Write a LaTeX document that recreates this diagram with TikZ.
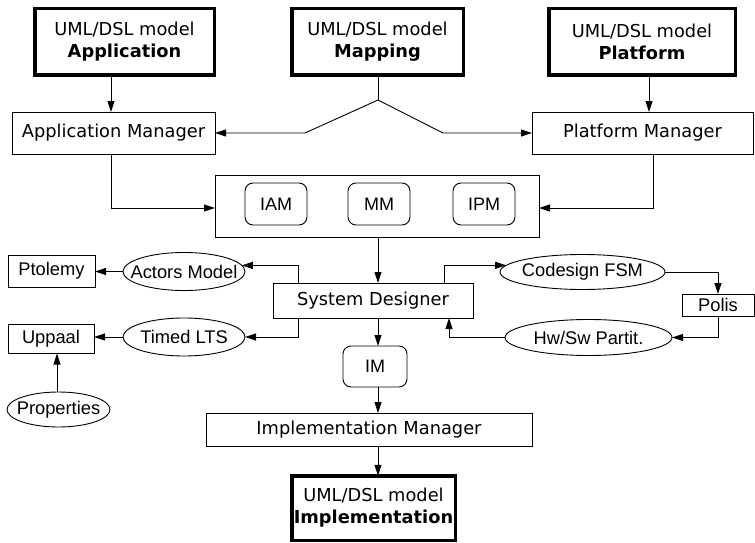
\documentclass[tikz,border=0pt]{standalone}
\usepackage{fontspec}
\setmainfont{DejaVu Sans}
\newfontfamily\arialfont{Liberation Sans}
\usetikzlibrary{arrows.meta,shapes.geometric}

% ellipse labels take no width, so the ellipse keeps its set size
\newcommand{\ellabel}[1]{\makebox[0pt]{#1}}

\tikzset{
  every node/.style={inner sep=0pt, outer sep=0pt, align=center, font=\fontsize{17.8}{22}\selectfont},
  modelbox/.style={draw, line width=3.5pt, minimum width=#1},
  mgrbox/.style={draw, line width=0.9pt},
  subbox/.style={draw, line width=0.9pt, rounded corners=8pt, minimum width=62pt, minimum height=42pt, font=\arialfont\fontsize{18}{20}\selectfont},
  toolbox/.style={draw, line width=0.9pt, font=\arialfont\fontsize{18.3}{20}\selectfont},
  modelell/.style={draw, ellipse, line width=0.9pt, inner sep=0pt, font=\arialfont\fontsize{18.3}{20}\selectfont},
  conn/.style={line width=0.9pt},
  arr/.style={conn, -{Triangle[length=11pt,width=7pt]}},
}

\begin{document}
\begin{tikzpicture}[x=1pt,y=-1pt]
\useasboundingbox (0,0) rectangle (755,543);

% input models
\node[modelbox=179.5pt, minimum height=66.5pt] (appm) at (124.5,42) {UML/DSL model\\\textbf{Application}};
\node[modelbox=171.5pt, minimum height=66.5pt] (mapm) at (377.5,42) {UML/DSL model\\\textbf{Mapping}};
\node[modelbox=186.5pt, minimum height=66.5pt] (platm) at (642,42) {UML/DSL model\\\textbf{Platform}};

% managers
\node[mgrbox, minimum width=203pt, minimum height=42pt] (appmgr) at (113.5,133) {Application Manager};
\node[mgrbox, minimum width=221pt, minimum height=42pt] (platmgr) at (642.5,133) {Platform Manager};

% intermediate models
\node[mgrbox, minimum width=324pt, minimum height=62pt] (inter) at (377,206) {};
\node[subbox] (iam) at (276,204) {IAM};
\node[subbox] (mm) at (379,204) {MM};
\node[subbox] (ipm) at (484,204) {IPM};

% system designer and its back-ends
\node[mgrbox, minimum width=200pt, minimum height=35pt] (sd) at (373,300.5) {System Designer};
\node[modelell, minimum width=122pt, minimum height=38pt] (actors) at (184,271.5) {\ellabel{Actors Model}};
\node[modelell, minimum width=122pt, minimum height=38pt] (tlts) at (184,337) {\ellabel{Timed LTS}};
\node[toolbox, minimum width=87pt, minimum height=32pt] (ptolemy) at (51.5,271) {Ptolemy};
\node[toolbox, minimum width=86pt, minimum height=29pt] (uppaal) at (51,339) {Uppaal};
\node[modelell, minimum width=103pt, minimum height=35pt] (props) at (58.5,409.5) {\ellabel{Properties}};
\node[modelell, minimum width=165pt, minimum height=35pt] (cfsm) at (582.5,272) {\ellabel{Codesign FSM}};
\node[toolbox, minimum width=72pt, minimum height=22pt] (polis) at (718,305) {Polis};
\node[modelell, minimum width=167pt, minimum height=36pt] (hwsw) at (588.5,337.5) {\ellabel{Hw/Sw Partit.}};

% implementation side
\node[subbox, minimum width=64pt, minimum height=41pt] (im) at (375,366.5) {IM};
\node[mgrbox, minimum width=326pt, minimum height=33pt] (implmgr) at (369,429.5) {Implementation Manager};
\node[modelbox=163.5pt, minimum height=64.5pt] (implm) at (373.5,508) {UML/DSL model\\\textbf{Implementation}};

% routing columns
\coordinate (spine) at (378,0);
\coordinate (appcol) at (111,0);
\coordinate (platcol) at (649,0);
\coordinate (pmgrcol) at (653,0);
\coordinate (leftcol) at (298,0);
\coordinate (fsmcol) at (444,0);
\coordinate (hwcol) at (449,0);
\coordinate (propcol) at (57,0);
\coordinate (feedrow) at (0,208);
\coordinate (split) at (378,100);
\coordinate (mapl) at (305,133);
\coordinate (mapr) at (443,133);

% model inputs to managers
\draw[arr] (appm.south -| appcol) -- (appmgr.north -| appcol);
\draw[arr] (platm.south -| platcol) -- (platmgr.north -| platcol);
\draw[conn] (mapm.south -| spine) -- (split);
\draw[arr] (split) -- (mapl) -- (appmgr.east);
\draw[arr] (split) -- (mapr) -- (platmgr.west);

% managers to intermediate models
\draw[arr] (appmgr.south -| appcol) |- (inter.west |- feedrow);
\draw[arr] (platmgr.south -| pmgrcol) |- (inter.east |- feedrow);

% main flow
\draw[arr] (inter.south -| spine) -- (sd.north -| spine);
\draw[arr] (sd.south -| spine) -- (im.north -| spine);
\draw[arr] (im.south -| spine) -- (implmgr.north -| spine);
\draw[arr] (implmgr.south -| spine) -- (implm.north -| spine);

% verification and simulation branches
\draw[arr] (sd.north -| leftcol) |- (actors.6);
\draw[arr] (sd.south -| leftcol) |- (tlts);
\draw[arr] (actors) -- (ptolemy.east |- actors);
\draw[arr] (tlts) -- (uppaal.east |- tlts);
\draw[arr] (props.north -| propcol) -- (uppaal.south -| propcol);

% co-design loop
\draw[arr] (sd.north -| fsmcol) |- (cfsm.175);
\draw[arr] (cfsm) -| (polis.north);
\draw[arr] (polis.south) |- (hwsw);
\draw[arr] (hwsw) -| (sd.south -| hwcol);
\end{tikzpicture}
\end{document}
